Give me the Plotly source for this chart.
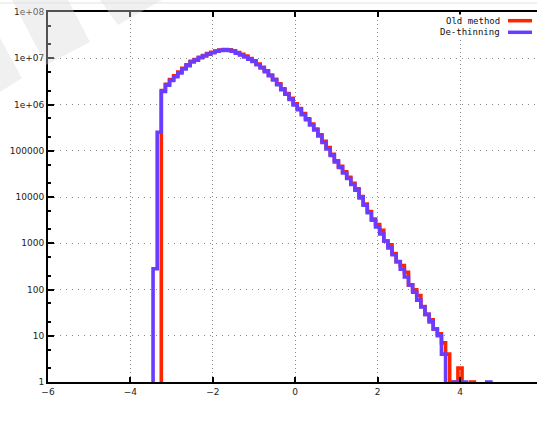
import plotly.graph_objects as go

# ---------------- data ----------------
first_center = -3.4      # centre of first histogram bin
bin_width = 0.1

# counts per bin, bins centred at -3.4, -3.3, ..., 4.7
old_method = [
    0, 0, 2.0e6, 2.75e6, 3.45e6, 4.15e6, 5.0e6, 6.1e6, 7.2e6, 8.6e6,
    9.4e6, 1.05e7, 1.15e7, 1.26e7, 1.35e7, 1.44e7, 1.51e7, 1.55e7, 1.52e7, 1.45e7,
    1.32e7, 1.21e7, 1.11e7, 9.9e6, 8.8e6, 7.5e6, 6.4e6, 5.35e6, 4.35e6, 3.52e6,
    2.80e6, 2.18e6, 1.73e6, 1.36e6, 1.03e6, 815000, 635000, 492000, 380000, 296000,
    220000, 160000, 117000, 84000, 61000, 46000, 35000, 26500, 19800, 15000,
    10200, 7000, 4850, 3350, 2550, 1900, 1120, 930, 600, 400,
    330, 235, 126, 98, 74, 43, 29, 22, 14, 11,
    7, 4, 1, 1, 2, 0, 0, 1, 0, 0,
    0, 0,
]
de_thinning = [
    282, 251000, 1.91e6, 2.63e6, 3.31e6, 3.98e6, 4.79e6, 5.89e6, 6.92e6, 8.32e6,
    9.12e6, 1.023e7, 1.122e7, 1.230e7, 1.318e7, 1.413e7, 1.479e7, 1.514e7, 1.479e7, 1.413e7,
    1.288e7, 1.175e7, 1.072e7, 9.55e6, 8.51e6, 7.24e6, 6.17e6, 5.13e6, 4.17e6, 3.39e6,
    2.69e6, 2.09e6, 1.66e6, 1.29e6, 977000, 776000, 603000, 468000, 363000, 282000,
    209000, 151000, 110000, 79400, 57500, 43700, 33100, 25100, 18600, 14100,
    9550, 6610, 4570, 3160, 2240, 1580, 1120, 794, 562, 398,
    275, 186, 126, 87, 59, 42, 29, 20, 14, 10,
    4, 0, 0, 1, 1, 1, 0, 0, 0, 0,
    0, 1,
]

series_names = ["Old method", "De-thinning"]
series_colors = ["#ff2400", "#6a3cff"]

x_tick_vals = [-6, -4, -2, 0, 2, 4]
y_tick_vals = [1, 10, 100, 1000, 10000, 100000, 1e6, 1e7, 1e8]
y_tick_text = ["1", "10", "100", "1000", "10000", "100000", "1e+06", "1e+07", "1e+08"]

# ---------------- geometry ----------------
W, H = 537, 436
ML, MR, MT, MB = 48, 0, 12, 54
PW, PH = W - ML - MR, H - MT - MB
PX_PER_UNIT = 41.2
x_range = [-6, -6 + PW / PX_PER_UNIT]

FLOOR = 0.01  # empty bins fall below the axis and are clipped


def step_xy(values):
    xs = [round(first_center - bin_width / 2, 4)]
    ys = [FLOOR]
    for i, v in enumerate(values):
        xs.append(round(first_center + i * bin_width - bin_width / 2, 4))
        ys.append(v if v > 0 else FLOOR)
    xs.append(round(first_center + len(values) * bin_width - bin_width / 2, 4))
    ys.append(FLOOR)
    return xs, ys


def px(xp):
    return (xp - ML) / PW


def py(yp):
    return (H - MB - yp) / PH


fig = go.Figure()
for name, vals, col in zip(series_names, [old_method, de_thinning], series_colors):
    xs, ys = step_xy(vals)
    fig.add_trace(go.Scatter(x=xs, y=ys, mode="lines", name=name,
                             line=dict(color=col, width=3.6, shape="hv"),
                             showlegend=False))

axis_font = dict(family="DejaVu Sans", size=9, color="#222")

fig.update_xaxes(range=x_range, tickvals=x_tick_vals, ticks="inside", ticklen=5,
                 tickwidth=2, tickcolor="black", showline=True, linewidth=2,
                 linecolor="black", mirror="ticks", showgrid=True, gridcolor="#8a8a8a",
                 gridwidth=1, griddash="1px,3px", zeroline=False, tickfont=axis_font)
fig.update_yaxes(type="log", range=[0, 8], tickvals=y_tick_vals, ticktext=y_tick_text,
                 ticks="inside", ticklen=6, tickwidth=1.5, tickcolor="black",
                 showline=True, linewidth=2, linecolor="black", mirror=False,
                 showgrid=True, gridcolor="#8a8a8a", gridwidth=1, griddash="1px,5px",
                 zeroline=False, tickfont=axis_font,
                 minor=dict(ticks="inside", ticklen=3, tickcolor="black", showgrid=False))

shapes = []
# faint overlay shapes in the top-left corner of the screenshot
wm = "rgba(215,215,215,0.38)"
for poly in [
    [(12, 0), (68, 0), (90, 42), (46, 65)],
    [(100, 0), (118, 25), (162, 0)],
    [(0, 38), (22, 78), (0, 92)],
]:
    path = "M " + " L ".join(f"{px(a):.4f},{py(b):.4f}" for a, b in poly) + " Z"
    shapes.append(dict(type="path", xref="paper", yref="paper", path=path,
                       fillcolor=wm, line=dict(width=0), layer="above"))
# thin grey rule at the very top
shapes.append(dict(type="line", xref="paper", yref="paper", x0=px(0), x1=px(W),
                   y0=py(3), y1=py(3), line=dict(color="#e2e2e2", width=1)))

annotations = []
legend_y = [20.7, 32.3]
for name, col, ly in zip(series_names, series_colors, legend_y):
    shapes.append(dict(type="line", xref="paper", yref="paper", x0=px(508), x1=px(532),
                       y0=py(ly), y1=py(ly), line=dict(color=col, width=3.5)))
    annotations.append(dict(text=name, xref="paper", yref="paper", x=px(502), y=py(ly),
                            xanchor="right", yanchor="middle", showarrow=False,
                            font=dict(family="DejaVu Sans Mono", size=9, color="#111"),
                            bgcolor="white"))

fig.update_layout(width=W, height=H, margin=dict(l=ML, r=MR, t=MT, b=MB, pad=0),
                  plot_bgcolor="white", paper_bgcolor="white",
                  shapes=shapes, annotations=annotations, showlegend=False)

fig.write_html("out.html")
